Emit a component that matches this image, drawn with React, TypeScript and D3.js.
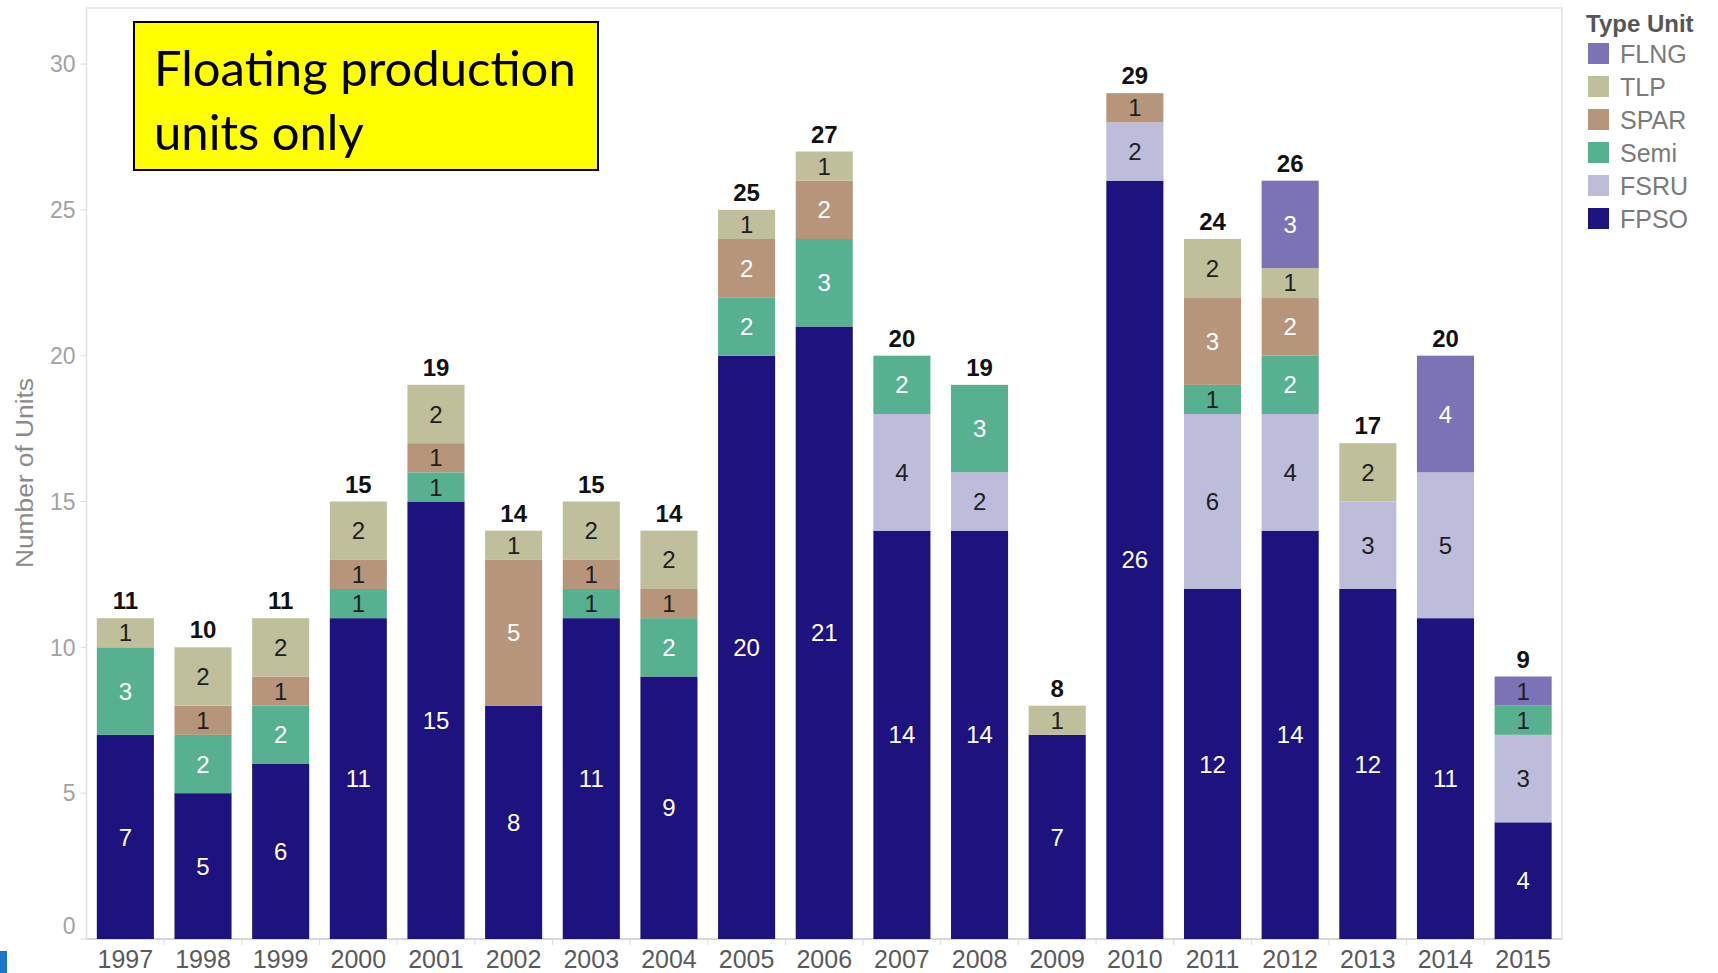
import React from "react";
import * as d3 from "d3";

const years = ["1997","1998","1999","2000","2001","2002","2003","2004","2005","2006","2007","2008","2009","2010","2011","2012","2013","2014","2015"];
// stacking order, bottom to top
const unitTypes = ["FPSO", "FSRU", "Semi", "SPAR", "TLP", "FLNG"];
const fpso = [7, 5, 6, 11, 15, 8, 11, 9, 20, 21, 14, 14, 7, 26, 12, 14, 12, 11, 4];
const fsru = [0, 0, 0, 0, 0, 0, 0, 0, 0, 0, 4, 2, 0, 2, 6, 4, 3, 5, 3];
const semi = [3, 2, 2, 1, 1, 0, 1, 2, 2, 3, 2, 3, 0, 0, 1, 2, 0, 0, 1];
const spar = [0, 1, 1, 1, 1, 5, 1, 1, 2, 2, 0, 0, 0, 1, 3, 2, 0, 0, 0];
const tlp = [1, 2, 2, 2, 2, 1, 2, 2, 1, 1, 0, 0, 1, 0, 2, 1, 2, 0, 0];
const flng = [0, 0, 0, 0, 0, 0, 0, 0, 0, 0, 0, 0, 0, 0, 0, 3, 0, 4, 1];
const yTicks = [0, 5, 10, 15, 20, 25, 30];
const legendOrder = ["FLNG", "TLP", "SPAR", "Semi", "FSRU", "FPSO"];

const colors: Record<string, string> = {
  FLNG: "#7c72b6",
  TLP: "#bfbf9c",
  SPAR: "#b7957a",
  Semi: "#57b191",
  FSRU: "#bebcdb",
  FPSO: "#1e127e",
};

const series: Record<string, number[]> = { FPSO: fpso, FSRU: fsru, Semi: semi, SPAR: spar, TLP: tlp, FLNG: flng };

const rows = years.map((y, i) => {
  const r: Record<string, number | string> = { year: y };
  unitTypes.forEach((t) => (r[t] = series[t][i]));
  return r;
});

const W = 1718;
const H = 973;
const plot = { left: 86.5, right: 1562, top: 8, bottom: 939 };
const FONT = "'Liberation Sans', Arial, sans-serif";

export default function App() {
  const x = d3.scaleBand<string>().domain(years).range([plot.left, plot.right]).paddingInner(0.265).paddingOuter(0.133);
  const y = d3.scaleLinear().domain([0, 30]).range([plot.bottom, 64]);
  const stacked = d3.stack<any>().keys(unitTypes)(rows as any);
  const totals = years.map((_, i) => unitTypes.reduce((s, t) => s + series[t][i], 0));

  const labelColor = (t: string, v: number) => (v === 1 || t === "TLP" || t === "FSRU" ? "#1e1e1e" : "#ffffff");

  return (
    <svg width={W} height={H} style={{ position: "absolute", left: 0, top: 0, background: "#fff" }} fontFamily={FONT}>
      {/* plot frame */}
      <rect x={plot.left} y={plot.top} width={plot.right - plot.left} height={plot.bottom - plot.top} fill="none" stroke="#e3e3e3" strokeWidth={1.5} />
      <line x1={plot.left} x2={plot.right} y1={plot.bottom} y2={plot.bottom} stroke="#d0d0d0" strokeWidth={1.5} />

      {/* y axis */}
      {yTicks.map((t) => (
        <g key={t}>
          <line x1={plot.left - 6} x2={plot.left} y1={y(t)} y2={y(t)} stroke="#dcdcdc" />
          <text x={plot.left - 11} y={t === 0 ? y(t) - 13 : y(t)} dy="0.36em" textAnchor="end" fontSize={23} fill="#a2a2a2">{t}</text>
        </g>
      ))}
      <text transform={`translate(25,473) rotate(-90)`} textAnchor="middle" fontSize={23} fill="#8a8a8a" dy="0.35em" textLength={190} lengthAdjust="spacingAndGlyphs">Number of Units</text>

      {/* x axis */}
      {years.map((yr, i) => {
        const b = x(yr)! - (x.step() - x.bandwidth()) / 2;
        return (
          <g key={yr}>
            {i > 0 && <line x1={b} x2={b} y1={plot.bottom} y2={plot.bottom + 6} stroke="#dcdcdc" />}
            <text x={x(yr)! + x.bandwidth() / 2} y={968} textAnchor="middle" fontSize={25} fill="#5a5a5a">{yr}</text>
          </g>
        );
      })}

      {/* stacked bars */}
      {stacked.map((layer) => (
        <g key={layer.key}>
          {layer.map((d, i) => {
            const v = d[1] - d[0];
            if (v <= 0) return null;
            const x0 = x(years[i])!;
            return (
              <g key={i}>
                <rect x={x0} y={y(d[1])} width={x.bandwidth()} height={y(d[0]) - y(d[1])} fill={colors[layer.key]} />
                <text x={x0 + x.bandwidth() / 2} y={(y(d[0]) + y(d[1])) / 2} dy="0.36em" textAnchor="middle" fontSize={24} fill={labelColor(layer.key, v)}>{v}</text>
              </g>
            );
          })}
        </g>
      ))}

      {/* totals */}
      {years.map((yr, i) => (
        <text key={yr} x={x(yr)! + x.bandwidth() / 2} y={y(totals[i]) - 9} textAnchor="middle" fontSize={24} fontWeight="bold" fill="#111">{totals[i]}</text>
      ))}

      {/* legend */}
      <text x={1586} y={32} fontSize={24} fontWeight="bold" fill="#555">Type Unit</text>
      {legendOrder.map((t, i) => (
        <g key={t}>
          <rect x={1588} y={43 + i * 33} width={21} height={21} fill={colors[t]} />
          <text x={1620} y={54 + i * 33} dy="0.36em" fontSize={25} fill="#7a7a7a">{t}</text>
        </g>
      ))}

      {/* annotation box */}
      <rect x={134} y={22} width={464} height={148} fill="#ffff00" stroke="#000" strokeWidth={2} />
      <text x={154} y={86} fontSize={49} fill="#000" fontFamily="Lato, 'Open Sans', sans-serif">Floating production</text>
      <text x={154} y={150} fontSize={49} fill="#000" fontFamily="Lato, 'Open Sans', sans-serif">units only</text>

      {/* edge marker */}
      <rect x={0} y={951} width={7} height={22} fill="#1b75c9" />
    </svg>
  );
}
